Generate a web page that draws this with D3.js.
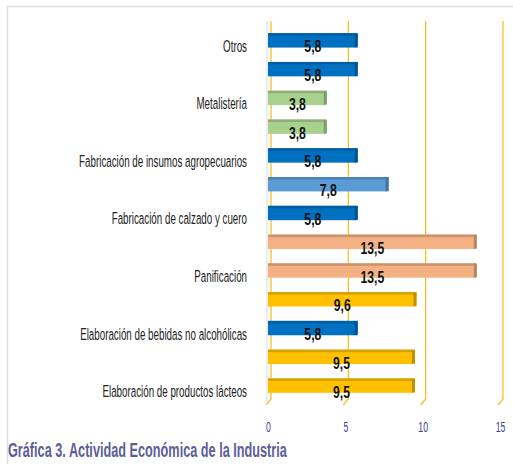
<!DOCTYPE html>
<html>
<head>
<meta charset="utf-8">
<script src="https://cdn.jsdelivr.net/npm/d3@7"></script>
<style>
  body { margin: 0; background: #fff; }
  svg { display: block; }
  text { font-family: "Liberation Sans", Arial, sans-serif; }
</style>
</head>
<body>
<svg width="513" height="464"></svg>
<script>
const labels = ['Otros', '', 'Metalistería', '', 'Fabricación de insumos agropecuarios', '',
	'Fabricación de calzado y cuero', '', 'Panificación', '', 'Elaboración de bebidas no alcohólicas', '',
	'Elaboración de productos lácteos']
const values = [5.8, 5.8, 3.8, 3.8, 5.8, 7.8, 5.8, 13.5, 13.5, 9.6, 5.8, 9.5, 9.5]
const colors = ['#0070c0', '#0070c0', '#a9d18e', '#a9d18e', '#0070c0', '#5b9bd5', '#0070c0',
	'#f4b183', '#f4b183', '#ffc000', '#0070c0', '#ffc000', '#ffc000']
const ticks = [0, 5, 10, 15]
const title = 'Gráfica 3. Actividad Económica de la Industria'

const svg = d3.select('svg')
const idx = d3.range(values.length)

const x = d3.scaleLinear().domain([0, 15]).range([268, 500])
const y = d3.scaleBand().domain(idx).range([26, 400]).paddingInner(0.5).paddingOuter(0.25)

// squeeze text horizontally, the source font is a tall narrow one
const squeeze = (sel, f) => sel.attr('transform', `scale(${f},1)`)

// frame
svg.append('path')
	.attr('d', 'M7.5,464V6.5H513')
	.attr('fill', 'none')
	.attr('stroke', '#dcdfe3')
	.attr('stroke-width', 1.5)

// gridlines with 3d floor slant
const gridTop = 21, wallBottom = 399, floorFront = 405
svg.append('g')
	.selectAll('path')
	.data(ticks)
	.join('path')
	.attr('d', d => `M${x(d) + 3},${gridTop}V${wallBottom}L${x(d) - 2},${floorFront}`)
	.attr('fill', 'none')
	.attr('stroke', '#f7bf2a')
	.attr('stroke-width', 1.3)

// left wall line
svg.append('path')
	.attr('d', `M${x(0) - 1},${gridTop}V${floorFront}`)
	.attr('stroke', '#d9d9d9')
	.attr('stroke-width', 1)

// bars
const bars = svg.append('g')
	.selectAll('g')
	.data(idx)
	.join('g')

bars.append('rect')
	.attr('x', x(0))
	.attr('y', i => y(i))
	.attr('width', i => x(values[i]) - x(0))
	.attr('height', y.bandwidth())
	.attr('fill', i => colors[i])

bars.append('rect')
	.attr('x', x(0))
	.attr('y', i => y(i))
	.attr('width', i => x(values[i]) - x(0))
	.attr('height', 2.5)
	.attr('fill', i => d3.color(colors[i]).darker(0.5))

bars.append('path')
	.attr('d', i => {
		const x1 = x(values[i]), y0 = y(i), h = y.bandwidth()
		return `M${x1 - 3},${y0}L${x1},${y0 + 1.5}V${y0 + h - 1}L${x1 - 3},${y0 + h}Z`
	})
	.attr('fill', i => d3.color(colors[i]).darker(0.8))

// data labels
bars.append('g')
	.attr('transform', i => `translate(${(x(0) + x(values[i])) / 2},${y(i) + y.bandwidth() / 2 + 12})`)
	.append('text')
	.attr('text-anchor', 'middle')
	.attr('font-size', 17)
	.attr('font-weight', 'bold')
	.attr('fill', '#111')
	.text(i => d3.format('.1f')(values[i]).replace('.', ','))
	.call(squeeze, 0.72)

// category axis
const yAxis = svg.append('g')
	.attr('transform', 'translate(247,6)')
	.call(d3.axisLeft(y).tickSize(0).tickPadding(0).tickFormat(i => labels[i]))
yAxis.select('.domain').remove()
const catText = yAxis.selectAll('text')
	.attr('font-family', '"Liberation Sans", Arial, sans-serif')
	.attr('font-size', 17)
	.attr('fill', '#222')
const longest = d3.max(catText.nodes(), n => n.getComputedTextLength())
catText.call(squeeze, 168 / longest)

// value axis
const xAxis = svg.append('g')
	.attr('transform', 'translate(0,422)')
	.call(d3.axisBottom(x).tickValues(ticks).tickSize(0).tickPadding(0))
xAxis.select('.domain').remove()
xAxis.selectAll('text')
	.attr('font-family', '"Liberation Sans", Arial, sans-serif')
	.attr('font-size', 14)
	.attr('fill', '#3b3d8f')
	.call(squeeze, 0.62)

// title
const t = svg.append('g')
	.attr('transform', 'translate(8,457)')
	.append('text')
	.attr('font-size', 21)
	.attr('font-weight', 'bold')
	.attr('fill', '#5c5e98')
	.text(title)
t.call(squeeze, 279 / t.node().getComputedTextLength())
</script>
</body>
</html>
